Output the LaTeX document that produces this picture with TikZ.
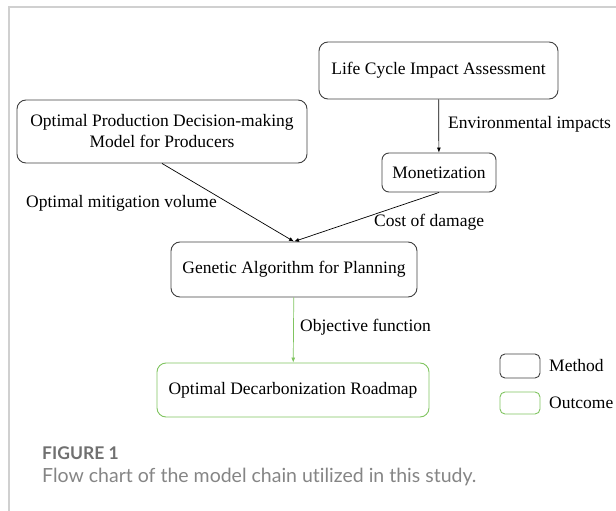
\documentclass[tikz,border=0pt]{standalone}
\usepackage{fontspec}
\setmainfont{Liberation Serif}
\newfontfamily\capfont[Ligatures=NoCommon]{Lato}
\usetikzlibrary{arrows.meta}
\definecolor{framegray}{RGB}{208,208,208}
\definecolor{outgreen}{RGB}{128,196,96}
\definecolor{capgray}{RGB}{112,112,112}
\begin{document}
\begin{tikzpicture}[x=1pt,y=1pt,yscale=-1,xscale=1,
    method/.style={draw=black!75,line width=0.9pt,rounded corners=9pt,inner sep=0pt,align=center,font=\fontsize{17.5}{21}\selectfont},
    outcome/.style={method,draw=outgreen},
    lbl/.style={anchor=west,inner sep=0pt,font=\fontsize{17.5}{21}\selectfont},
    conn/.style={line width=0.7pt,-{Latex[length=5pt,width=4pt]}}]
\useasboundingbox (0,0) rectangle (616,511);
                    %Straight Lines (frame)
                    \draw [color=framegray, line width=1.2pt] (9,511) -- (9,7) -- (616,7) ;
                    %Shape: Rounded Rect
                    \node [method, minimum width=239, minimum height=57] (lcia) at (438.5,70.5) {Life Cycle Impact Assessment};
                    %Shape: Rounded Rect
                    \node [method, minimum width=290, minimum height=63] (prod) at (162,131.5) {Optimal Production Decision-making\\Model for Producers};
                    %Shape: Rounded Rect
                    \node [method, minimum width=114, minimum height=39, rounded corners=7pt] (money) at (439,172.5) {Monetization};
                    %Shape: Rounded Rect
                    \node [method, minimum width=246, minimum height=55] (ga) at (294,269.5) {Genetic Algorithm for Planning};
                    %Shape: Rounded Rect
                    \node [outcome, minimum width=272, minimum height=54] (road) at (293,390) {Optimal Decarbonization Roadmap};

                    %Straight Lines
                    \draw [conn] (lcia) -- (money) ;
                    %Straight Lines
                    \draw [conn] (prod.south) -- (ga.north) ;
                    %Straight Lines
                    \draw [conn] (money.south) -- (ga.north) ;
                    %Straight Lines
                    \draw [conn, color=outgreen] (ga) -- (road) ;

                    % Text Node
                    \node [lbl] (envlbl) at (448,124) {Environmental impacts};
                    % Text Node
                    \node [lbl] (mitlbl) at (26,203) {Optimal mitigation volume};
                    % Text Node
                    \node [lbl] (costlbl) at (374,222) {Cost of damage};
                    % Text Node
                    \node [lbl] (objlbl) at (300,327) {Objective function};

                    %Shape: Legend boxes
                    \node [method, minimum width=40, minimum height=24, rounded corners=5pt] (keym) at (520,366) {};
                    \node [outcome, minimum width=40, minimum height=22, rounded corners=5pt] (keyo) at (520,403) {};
                    % Text Node
                    \node [lbl] (keymlbl) at (549,366) {Method};
                    % Text Node
                    \node [lbl] (keyolbl) at (549,403) {Outcome};

                    % Text Node
                    \node [anchor=west, inner sep=0pt, font=\capfont\bfseries\fontsize{17.5}{21}\selectfont, text=capgray] (fig) at (42,453) {FIGURE 1};
                    % Text Node
                    \node [anchor=west, inner sep=0pt, font=\capfont\fontsize{19.5}{23}\selectfont, text=capgray!85] (cap) at (42,477) {Flow chart of the model chain utilized in this study.};
\end{tikzpicture}
\end{document}
